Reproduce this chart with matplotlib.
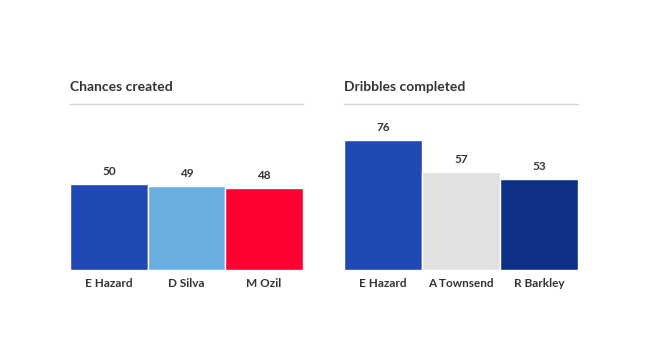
import matplotlib.pyplot as plt

chances_players = ["E Hazard", "D Silva", "M Ozil"]
chances_values = [50, 49, 48]
chances_colors = ["#2049b4", "#6aade0", "#ff0030"]

dribbles_players = ["E Hazard", "A Townsend", "R Barkley"]
dribbles_values = [76, 57, 53]
dribbles_colors = ["#2049b4", "#e1e1e1", "#0f3087"]

plt.rcParams["font.family"] = ["Lato", "DejaVu Sans"]

fig = plt.figure(figsize=(6.6, 3.5), dpi=100)
fig.patch.set_facecolor("white")

panels = [
    ("Chances created", chances_players, chances_values, chances_colors, [0.106, 0.229, 0.353, 0.474]),
    ("Dribbles completed", dribbles_players, dribbles_values, dribbles_colors, [0.521, 0.229, 0.355, 0.474]),
]

for title, players, values, colors, rect in panels:
    ax = fig.add_axes(rect)
    x = range(len(players))
    bars = ax.bar(x, values, width=1.0, color=colors, edgecolor="white", linewidth=1)
    for bar, v in zip(bars, values):
        ax.annotate(str(v), (bar.get_x() + bar.get_width() / 2, v),
                    xytext=(0, 5), textcoords="offset points",
                    ha="center", va="bottom", fontsize=8.5, fontweight="bold",
                    color="#333333")
    ax.set_xlim(-0.5, len(players) - 0.5)
    ax.set_ylim(0, 97)
    ax.set_xticks(list(x))
    ax.set_xticklabels(players, fontsize=8.5, fontweight="bold", color="#333333")
    ax.tick_params(axis="x", length=0, pad=6)
    ax.set_yticks([])
    for side in ["left", "right", "bottom"]:
        ax.spines[side].set_visible(False)
    ax.spines["top"].set_color("#d4d4d4")
    ax.spines["top"].set_linewidth(1)
    ax.set_title(title, loc="left", fontsize=10, fontweight="bold",
                 color="#333333", pad=9)

fig.savefig("out.png", dpi=100)
